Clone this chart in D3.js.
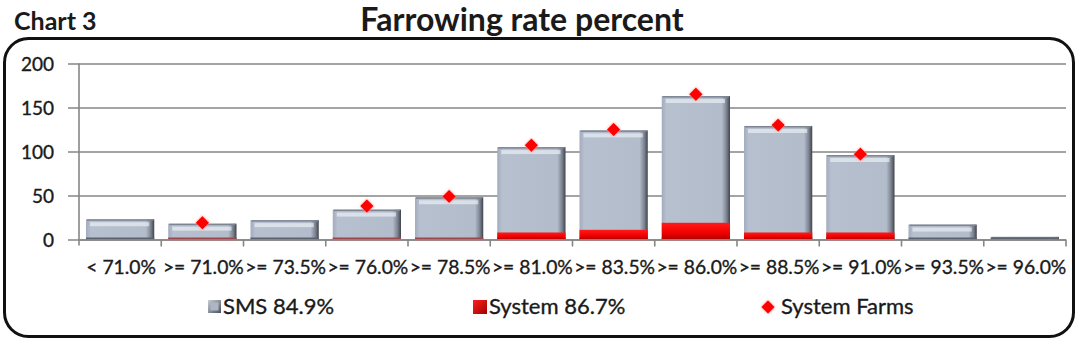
<!DOCTYPE html>
<html>
<head>
<meta charset="utf-8">
<script src="https://cdn.jsdelivr.net/npm/d3@7/dist/d3.min.js"></script>
<style>
  html, body { margin: 0; padding: 0; background: #fff; }
  svg { display: block; }
  text { font-family: Lato, "Open Sans", sans-serif; fill: #1a1a1a; }
  .lbl { stroke: #1a1a1a; stroke-width: 0.35px; }
</style>
</head>
<body>
<svg id="chart" width="1080" height="343"></svg>
<script>
// Farrowing rate distribution: farm counts per rate bucket
const categories = ["< 71.0%", ">= 71.0%", ">= 73.5%", ">= 76.0%", ">= 78.5%", ">= 81.0%",
                    ">= 83.5%", ">= 86.0%", ">= 88.5%", ">= 91.0%", ">= 93.5%", ">= 96.0%"];
const smsValues    = [23, 18, 22, 34, 48, 105, 124, 163, 129, 96, 17, 3];
const systemValues = [0, 1, 0, 1, 1, 8, 11, 19, 8, 8, 0, 0];
const farmValues   = [null, 19, null, 38, 49, 107, 125, 165, 130, 97, null, null];
const yTicks = [0, 50, 100, 150, 200];
const seriesNames = ["SMS 84.9%", "System 86.7%", "System Farms"];

const svg = d3.select("#chart");
const defs = svg.append("defs");

// gradients for the bevelled bars
const gGray = defs.append("linearGradient").attr("id", "grayBody").attr("x1", 0).attr("x2", 1).attr("y1", 0).attr("y2", 0);
gGray.append("stop").attr("offset", "0%").attr("stop-color", "#a3acbc");
gGray.append("stop").attr("offset", "7%").attr("stop-color", "#b7c0cf");
gGray.append("stop").attr("offset", "88%").attr("stop-color", "#b3bccb");
gGray.append("stop").attr("offset", "95%").attr("stop-color", "#7b8290");
gGray.append("stop").attr("offset", "100%").attr("stop-color", "#3f434b");

const gRed = defs.append("linearGradient").attr("id", "redBody").attr("x1", 0).attr("x2", 0).attr("y1", 0).attr("y2", 1);
gRed.append("stop").attr("offset", "0%").attr("stop-color", "#ff1a1a");
gRed.append("stop").attr("offset", "60%").attr("stop-color", "#f20000");
gRed.append("stop").attr("offset", "100%").attr("stop-color", "#b00000");

const gLegGray = defs.append("linearGradient").attr("id", "legGray").attr("x1", 0).attr("x2", 1).attr("y1", 0).attr("y2", 1);
gLegGray.append("stop").attr("offset", "0%").attr("stop-color", "#c9cfd9");
gLegGray.append("stop").attr("offset", "100%").attr("stop-color", "#4c525c");

const gLegRed = defs.append("linearGradient").attr("id", "legRed").attr("x1", 0).attr("x2", 1).attr("y1", 0).attr("y2", 1);
gLegRed.append("stop").attr("offset", "0%").attr("stop-color", "#ff2020");
gLegRed.append("stop").attr("offset", "100%").attr("stop-color", "#a00000");

const halo = defs.append("filter").attr("id", "halo").attr("x", "-50%").attr("y", "-50%").attr("width", "200%").attr("height", "200%");
halo.append("feGaussianBlur").attr("in", "SourceAlpha").attr("stdDeviation", 1.8).attr("result", "b");
halo.append("feFlood").attr("flood-color", "#ff8a8a").attr("flood-opacity", 0.85);
halo.append("feComposite").attr("in2", "b").attr("operator", "in").attr("result", "g");
const hm = halo.append("feMerge");
hm.append("feMergeNode").attr("in", "g");
hm.append("feMergeNode").attr("in", "SourceGraphic");

// headings
svg.append("text").attr("x", 14).attr("y", 30).attr("font-size", 25).attr("font-weight", 700).text("Chart 3");
svg.append("text").attr("x", 522).attr("y", 31).attr("text-anchor", "middle")
  .attr("font-size", 32).attr("font-weight", 700).text("Farrowing rate percent");

// rounded frame
svg.append("rect").attr("x", 4.5).attr("y", 38.5).attr("width", 1069).attr("height", 298)
  .attr("rx", 24).attr("ry", 24).attr("fill", "#fff").attr("stroke", "#111").attr("stroke-width", 3);

// scales
const x = d3.scaleBand().domain(categories).range([79, 1066]).padding(0);
const y = d3.scaleLinear().domain([0, 200]).range([239.5, 63.5]);
const barW = x.bandwidth() * 0.83;
const bx = c => x(c) + (x.bandwidth() - barW) / 2;

// horizontal gridlines (extend left as tick marks)
const yAxis = d3.axisLeft(y).tickValues(yTicks).tickSize(0).tickPadding(14);
const yg = svg.append("g").attr("transform", "translate(68,0)").call(yAxis);
yg.select(".domain").remove();
yg.selectAll(".tick line").attr("stroke", "#868686").attr("stroke-width", 1.6)
  .attr("x1", 0).attr("x2", 1066 - 68);
yg.selectAll(".tick text").attr("class", "lbl").attr("font-size", 19).attr("fill", "#1a1a1a").attr("x", -14).attr("dy", "0.35em");
// vertical value axis line
svg.append("line").attr("x1", 79).attr("x2", 79).attr("y1", y(200)).attr("y2", y(0) + 6)
  .attr("stroke", "#868686").attr("stroke-width", 1.6);

// category ticks at band boundaries
const bounds = categories.map(c => x(c)).concat([x(categories[categories.length - 1]) + x.bandwidth()]);
svg.append("g").selectAll("line").data(bounds.slice(1)).join("line")
  .attr("x1", d => d).attr("x2", d => d).attr("y1", y(0)).attr("y2", y(0) + 7)
  .attr("stroke", "#868686").attr("stroke-width", 1.6);

// SMS bars with bevel
const bars = svg.append("g").selectAll("g").data(categories).join("g");
bars.append("rect")
  .attr("x", c => bx(c)).attr("width", barW)
  .attr("y", (c, i) => y(smsValues[i])).attr("height", (c, i) => y(0) - y(smsValues[i]))
  .attr("fill", "url(#grayBody)");
// top edge
bars.append("rect")
  .attr("x", c => bx(c) + 1).attr("width", barW - 2)
  .attr("y", (c, i) => y(smsValues[i])).attr("height", (c, i) => Math.min(1.5, y(0) - y(smsValues[i])))
  .attr("fill", "#7d8592");
// top highlight strip
bars.append("rect")
  .attr("x", c => bx(c) + 4).attr("width", barW - 9)
  .attr("y", (c, i) => y(smsValues[i]) + 3)
  .attr("height", (c, i) => Math.max(0, Math.min(4, y(0) - y(smsValues[i]) - 6)))
  .attr("fill", "#eef2f8").attr("opacity", 0.65);
// bottom shade
bars.append("rect")
  .attr("x", c => bx(c)).attr("width", barW)
  .attr("y", y(0) - 2).attr("height", (c, i) => smsValues[i] > 2 ? 2 : 0)
  .attr("fill", "#5d636e");

// System bars in front
const reds = svg.append("g").selectAll("g").data(categories).join("g");
reds.append("rect")
  .attr("x", c => bx(c)).attr("width", barW)
  .attr("y", (c, i) => y(systemValues[i])).attr("height", (c, i) => y(0) - y(systemValues[i]))
  .attr("fill", "url(#redBody)");
reds.append("rect")
  .attr("x", c => bx(c)).attr("width", barW)
  .attr("y", y(0)).attr("height", (c, i) => systemValues[i] > 0 ? 1.5 : 0)
  .attr("fill", "#ff8080");

// x axis line
svg.append("line").attr("x1", 79).attr("x2", 1066).attr("y1", y(0) + 0.5).attr("y2", y(0) + 0.5)
  .attr("stroke", "#868686").attr("stroke-width", 1.6);

// System Farms markers
const diamond = d3.symbol().type(d3.symbolDiamond2).size(115);
svg.append("g").selectAll("path")
  .data(categories.map((c, i) => ({ c, v: farmValues[i] })).filter(d => d.v !== null))
  .join("path")
  .attr("d", diamond)
  .attr("transform", d => `translate(${x(d.c) + x.bandwidth() / 2},${y(d.v)})`)
  .attr("fill", "#ff0000").attr("filter", "url(#halo)");

// category labels
svg.append("g").selectAll("text").data(categories).join("text")
  .attr("class", "lbl")
  .attr("x", c => x(c) + x.bandwidth() / 2 + 1).attr("y", 274)
  .attr("text-anchor", "middle").attr("font-size", 19.3).text(c => c);

// legend
const lg = svg.append("g");
lg.append("rect").attr("x", 208).attr("y", 300).attr("width", 13).attr("height", 13).attr("fill", "url(#legGray)");
lg.append("rect").attr("x", 210.5).attr("y", 302.5).attr("width", 8).attr("height", 8).attr("fill", "#aeb6c4");
lg.append("text").attr("class", "lbl").attr("x", 223).attr("y", 314).attr("font-size", 22).text(seriesNames[0]);
lg.append("rect").attr("x", 473).attr("y", 300).attr("width", 14).attr("height", 14).attr("fill", "url(#legRed)");
lg.append("text").attr("class", "lbl").attr("x", 489).attr("y", 314).attr("font-size", 22).text(seriesNames[1]);
lg.append("path").attr("d", diamond).attr("transform", "translate(768,307)")
  .attr("fill", "#ff0000").attr("filter", "url(#halo)");
lg.append("text").attr("class", "lbl").attr("x", 781).attr("y", 314).attr("font-size", 22).text(seriesNames[2]);
</script>
</body>
</html>
